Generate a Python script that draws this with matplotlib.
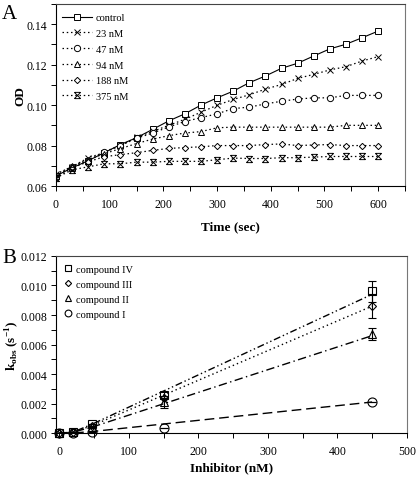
import matplotlib
matplotlib.use("Agg")
import matplotlib.pyplot as plt
import numpy as np
from matplotlib.path import Path
from matplotlib.ticker import MultipleLocator

plt.rcParams['font.family'] = ['Liberation Serif', 'DejaVu Serif']
plt.rcParams['mathtext.fontset'] = 'custom'
plt.rcParams['mathtext.rm'] = 'Liberation Serif'
plt.rcParams['mathtext.bf'] = 'Liberation Serif:bold'

# ---------------- Panel A data ----------------
time_s = [0, 30, 60, 90, 120, 150, 180, 210, 240, 270, 300, 330, 360, 390, 420,
          450, 480, 510, 540, 570, 600]
od_control = [0.065, 0.069, 0.0725, 0.0765, 0.0805, 0.0839, 0.0880, 0.0922, 0.0957,
              0.1000, 0.1036, 0.1069, 0.1111, 0.1144, 0.1182, 0.1207, 0.1243,
              0.1278, 0.1301, 0.1333, 0.1366]
od_23 = [0.066, 0.0695, 0.074, 0.0765, 0.0800, 0.0840, 0.0870, 0.0900, 0.0930,
         0.0965, 0.0999, 0.1028, 0.1051, 0.1079, 0.1102, 0.1132, 0.1152, 0.1174,
         0.1190, 0.1218, 0.1240]
od_47 = [0.065, 0.0695, 0.0725, 0.0770, 0.0800, 0.0836, 0.0862, 0.0892, 0.0919,
         0.0938, 0.0957, 0.0983, 0.0990, 0.1006, 0.1019, 0.1030, 0.1036, 0.1036,
         0.1048, 0.1048, 0.1048]
od_94 = [0.065, 0.0700, 0.0730, 0.0760, 0.0785, 0.0810, 0.0832, 0.0849, 0.0862,
         0.0869, 0.0888, 0.0891, 0.0891, 0.0891, 0.0891, 0.0891, 0.0891, 0.0891,
         0.0900, 0.0900, 0.0900]
od_188 = [0.064, 0.0690, 0.0720, 0.0745, 0.0755, 0.0765, 0.0776, 0.0786, 0.0790,
          0.0794, 0.0800, 0.0800, 0.0800, 0.0805, 0.0808, 0.0800, 0.0803, 0.0805,
          0.0800, 0.0800, 0.0800]
od_375 = [0.0640, 0.0680, 0.0695, 0.0710, 0.0710, 0.0718, 0.0718, 0.0722, 0.0722,
          0.0722, 0.0730, 0.0738, 0.0736, 0.0736, 0.0740, 0.0740, 0.0743, 0.0746,
          0.0746, 0.0746, 0.0746]
labels_a = ['control', '23 nM', '47 nM', '94 nM', '188 nM', '375 nM']

# ---------------- Panel B data ----------------
inhib_nM = [0, 19, 47, 150, 450]
k_IV = [0.0, 0.00005, 0.0006, 0.0026, 0.0096]
k_IV_err = [0, 0, 0, 0.0002, 0.0007]
k_III = [0.0, 0.00005, 0.0005, 0.0024, 0.0086]
k_III_err = [0, 0, 0, 0, 0.0008]
k_II = [0.0, 0.00005, 0.0004, 0.0021, 0.0067]
k_II_err = [0, 0, 0, 0.0004, 0.0004]
k_I = [0.0, 0.0, 0.00005, 0.00035, 0.0021]
k_I_err = [0, 0, 0, 0, 0]
fit_x = [0, 19, 47, 450]
fit_IV = [0.0, 0.00005, 0.0006, 0.0094]
fit_III = [0.0, 0.00005, 0.0005, 0.0086]
fit_II = [0.0, 0.00005, 0.0004, 0.0066]
fit_I = [0.0, 0.0, 0.0001, 0.0021]
labels_b = ['compound IV', 'compound III', 'compound II', 'compound I']

# custom "x with bars" marker
xbar = Path([(-1, -1), (1, 1), (-1, 1), (1, -1), (-0.9, 1), (0.9, 1), (-0.9, -1), (0.9, -1)],
            [Path.MOVETO, Path.LINETO, Path.MOVETO, Path.LINETO,
             Path.MOVETO, Path.LINETO, Path.MOVETO, Path.LINETO])

fig = plt.figure(figsize=(4.16, 4.81), dpi=100)
axA = fig.add_axes([0.1346, 0.6112, 0.839, 0.3784])
axB = fig.add_axes([0.1346, 0.0977, 0.8434, 0.368])

fs = 8.5
mk = dict(markerfacecolor='white', markeredgecolor='black', markeredgewidth=0.7, color='black')
axA.plot(time_s, od_control, '-', marker='s', ms=4.5, lw=0.8, label=labels_a[0], **mk)
series = [(od_23, 'x', 4.5), (od_47, 'o', 4.5), (od_94, '^', 4.5), (od_188, 'D', 3.2), (od_375, xbar, 4.5)]
for (vals, m, s), lab in zip(series, labels_a[1:]):
    axA.plot(time_s, vals, linestyle=(0, (1.2, 2.2)), marker=m, ms=s, lw=0.9, label=lab, **mk)

axA.set_xlim(0, 650)
axA.set_ylim(0.06, 0.15)
axA.set_xticks([0, 100, 200, 300, 400, 500, 600])
axA.xaxis.set_minor_locator(MultipleLocator(50))
axA.set_yticks([0.06, 0.08, 0.10, 0.12, 0.14])
axA.set_yticklabels(['0.06', '0.08', '0.10', '0.12', '0.14'])
axA.yaxis.set_minor_locator(MultipleLocator(0.01))
axA.set_xlabel('Time (sec)', fontsize=9.5, fontweight='bold')
axA.set_ylabel('OD', fontsize=9.5, fontweight='bold')
axA.xaxis.set_label_coords(0.5, -0.19)
axA.yaxis.set_label_coords(-0.085, 0.5)
leg = axA.legend(loc='upper left', frameon=False, fontsize=7.5, handlelength=2.9,
                 labelspacing=0.62, borderaxespad=0.2, handletextpad=0.3,
                 bbox_to_anchor=(0.0, 0.985))

for vals, err in [(k_IV, k_IV_err), (k_III, k_III_err), (k_II, k_II_err), (k_I, k_I_err)]:
    axB.errorbar(inhib_nM, vals, yerr=err, fmt='none', ecolor='black', elinewidth=0.8,
                 capsize=3, capthick=0.8, zorder=3)

axB.plot(fit_x, fit_IV, color='black', lw=1.0, linestyle=(0, (5, 2, 1, 2, 1, 2)))
axB.plot(fit_x, fit_III, color='black', lw=1.0, linestyle=(0, (1, 2.2)))
axB.plot(fit_x, fit_II, color='black', lw=1.0, linestyle=(0, (6, 2.5, 1, 2.5)))
axB.plot(fit_x, fit_I, color='black', lw=1.0, linestyle=(0, (7, 3.5)))

for vals, m, s, lab in [(k_IV, 's', 6, labels_b[0]), (k_III, 'D', 4.2, labels_b[1]),
                        (k_II, '^', 6, labels_b[2]), (k_I, 'o', 6.5, labels_b[3])]:
    axB.plot(inhib_nM, vals, linestyle='none', marker=m, ms=s, markerfacecolor='none',
             markeredgecolor='black', markeredgewidth=0.8, label=lab, zorder=4, clip_on=False)

axB.set_xlim(-5, 500)
axB.set_ylim(0, 0.012)
axB.set_xticks([0, 100, 200, 300, 400, 500])
axB.xaxis.set_minor_locator(MultipleLocator(50))
axB.set_yticks([0.0, 0.002, 0.004, 0.006, 0.008, 0.010, 0.012])
axB.set_yticklabels(['0.000', '0.002', '0.004', '0.006', '0.008', '0.010', '0.012'])
axB.yaxis.set_minor_locator(MultipleLocator(0.001))
axB.set_xlabel('Inhibitor (nM)', fontsize=9.5, fontweight='bold')
axB.set_ylabel(r'$\mathbf{k_{obs}}$ (s$^{\mathbf{-1}}$)', fontsize=9.5, fontweight='bold')
axB.xaxis.set_label_coords(0.5, -0.16)
axB.yaxis.set_label_coords(-0.1, 0.5)
legB = axB.legend(loc='upper left', frameon=False, fontsize=7.5, handlelength=0.8,
                  labelspacing=0.55, borderaxespad=0.4, handletextpad=0.3, markerscale=0.75)

for ax in (axA, axB):
    ax.tick_params(which='both', direction='out', labelsize=fs, length=3.5, width=0.7)
    ax.tick_params(axis='x', pad=5)
    ax.tick_params(axis='y', pad=3)
    for sp in ax.spines.values():
        sp.set_linewidth(0.8)
    ax.spines['right'].set_color('#777777')
    ax.spines['top'].set_color('#444444')

fig.text(0.005, 0.99, 'A', fontsize=15, va='top', ha='left')
fig.text(0.005, 0.482, 'B', fontsize=15, va='top', ha='left')

fig.savefig('out.png', dpi=100)
